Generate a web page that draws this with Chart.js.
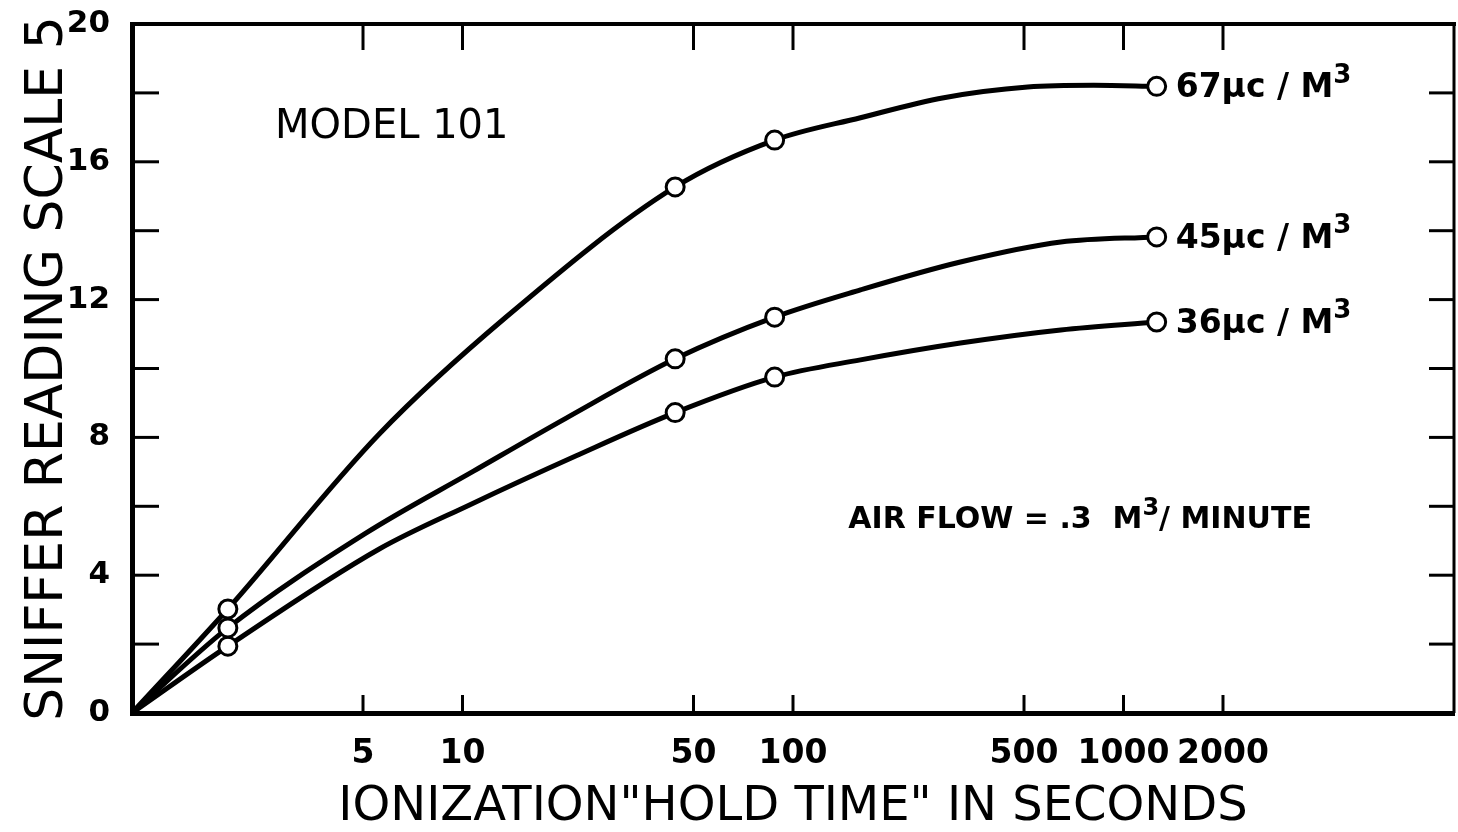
<!DOCTYPE html>
<html>
<head>
<meta charset="utf-8">
<title>Sniffer reading vs ionization hold time</title>
<script src="https://cdn.jsdelivr.net/npm/chart.js@4.4.1/dist/chart.umd.min.js"></script>
<style>
    html, body { margin: 0; padding: 0; background: #fff; overflow: hidden; }
    canvas { display: block; }
</style>
</head>
<body>
<canvas id="holdTimeChart" width="1458" height="832"></canvas>
<script>
// axis ticks
const xTicks = [5, 10, 50, 100, 500, 1000, 2000];
const yTicks = [0, 4, 8, 12, 16, 20];
const yMarks = [2, 4, 6, 8, 10, 12, 14, 16, 18];

// curve labels (µc per cubic metre)
const seriesLabels = ['67\u03bcc / M\u00b3', '45\u03bcc / M\u00b3', '36\u03bcc / M\u00b3'];

// measured points (circles), hold time in seconds
const pointTime = [1.95, 44, 88, 1260];
const points67 = [3.02, 15.27, 16.63, 18.19];
const points45 = [2.47, 10.28, 11.49, 13.82];
const points36 = [1.94, 8.72, 9.75, 11.35];

// faired curves (start at the corner)
const curveTime67 = [1, 1.95, 5.6, 13.5, 44, 88, 160, 286, 513, 813, 1260];
const curve67 = [0, 3.02, 8.1, 11.48, 15.27, 16.63, 17.28, 17.86, 18.17, 18.22, 18.19];
const curveTime45 = [1, 1.95, 5.1, 10.8, 20.6, 44, 88, 160, 321, 646, 1260];
const curve45 = [0, 2.47, 5.22, 7.02, 8.56, 10.28, 11.49, 12.28, 13.09, 13.67, 13.82];
const curveTime36 = [1, 1.95, 5.6, 10.5, 22, 44, 88, 160, 321, 646, 1260];
const curve36 = [0, 1.94, 4.76, 6.04, 7.46, 8.72, 9.75, 10.25, 10.74, 11.12, 11.35];

const FONT = "'DejaVu Sans', 'Liberation Sans', sans-serif";

function toXY(xs, ys) {
    return xs.map((x, i) => ({ x: x, y: ys[i] }));
}

function curveSet(xs, ys) {
    return {
        type: 'line',
        data: toXY(xs, ys),
        borderColor: '#000',
        borderWidth: 5,
        pointRadius: 0,
        fill: false,
        cubicInterpolationMode: 'monotone',
        order: 2
    };
}

function pointSet(ys) {
    return {
        type: 'scatter',
        data: toXY(pointTime, ys),
        pointStyle: 'circle',
        pointRadius: 9,
        pointBorderWidth: 3,
        pointBackgroundColor: '#fff',
        pointBorderColor: '#000',
        showLine: false,
        order: 1
    };
}

// no label overflow padding, the box is placed by hand
function noPadding(scale) {
    scale.paddingLeft = 0;
    scale.paddingRight = 0;
    scale.paddingTop = 0;
    scale.paddingBottom = 0;
}

// draws text, turning "³" into a raised 3
function drawRich(ctx, text, x, y, size) {
    let cx = x;
    text.split(/(\u00b3)/).forEach(part => {
        if (!part) return;
        if (part === '\u00b3') {
            ctx.font = 'bold ' + Math.round(size * 0.8) + 'px ' + FONT;
            ctx.fillText('3', cx, y - size * 0.45);
            cx += ctx.measureText('3').width;
        } else {
            ctx.font = 'bold ' + size + 'px ' + FONT;
            ctx.fillText(part, cx, y);
            cx += ctx.measureText(part).width;
        }
    });
}

const framePlugin = {
    id: 'frame',
    afterDraw(chart) {
        const { ctx, chartArea: a, scales: { x, y } } = chart;
        ctx.save();
        ctx.strokeStyle = '#000';
        ctx.fillStyle = '#000';

        const line = (x1, y1, x2, y2) => {
            ctx.beginPath();
            ctx.moveTo(x1, y1);
            ctx.lineTo(x2, y2);
            ctx.stroke();
        };

        // top and right side of the box
        ctx.lineWidth = 4;
        line(a.left - 2, a.top, a.right + 2, a.top);
        ctx.lineWidth = 3;
        line(a.right, a.top, a.right, a.bottom);

        // inside tick marks
        ctx.lineWidth = 3;
        yMarks.forEach(v => {
            const py = y.getPixelForValue(v);
            line(a.left, py, a.left + 27, py);
            line(a.right - 25, py, a.right, py);
        });
        xTicks.forEach(v => {
            const px = x.getPixelForValue(v);
            line(px, a.top, px, a.top + 26);
            line(px, a.bottom, px, a.bottom - 18);
        });

        // notes
        ctx.textBaseline = 'alphabetic';
        ctx.textAlign = 'left';
        ctx.font = '40px ' + FONT;
        ctx.fillText('MODEL 101', x.getPixelForValue(2.71), y.getPixelForValue(16.7));
        drawRich(ctx, 'AIR FLOW = .3  M\u00b3/ MINUTE', x.getPixelForValue(147), y.getPixelForValue(5.37), 30);

        // curve labels next to the last circle
        const ends = [points67, points45, points36];
        ends.forEach((ys, i) => {
            const px = x.getPixelForValue(pointTime[pointTime.length - 1]);
            const py = y.getPixelForValue(ys[ys.length - 1]);
            drawRich(ctx, seriesLabels[i], px + 19, py + 11, 33);
        });
        ctx.restore();
    }
};

new Chart(document.getElementById('holdTimeChart'), {
    type: 'line',
    data: {
        datasets: [
            pointSet(points67),
            pointSet(points45),
            pointSet(points36),
            curveSet(curveTime67, curve67),
            curveSet(curveTime45, curve45),
            curveSet(curveTime36, curve36)
        ]
    },
    options: {
        responsive: false,
        animation: false,
        layout: { autoPadding: false, padding: { top: 24, right: 4, left: 0, bottom: 0 } },
        plugins: {
            legend: { display: false },
            tooltip: { enabled: false }
        },
        scales: {
            x: {
                type: 'logarithmic',
                min: 1,
                max: 10000,
                afterBuildTicks: scale => { scale.ticks = xTicks.map(v => ({ value: v })); },
                afterFit: scale => {
                    scale.height = 119;
                    noPadding(scale);
                },
                ticks: {
                    color: '#000',
                    padding: 22,
                    autoSkip: false,
                    maxRotation: 0,
                    font: { family: FONT, size: 33, weight: 'bold' },
                    callback: v => String(v)
                },
                grid: { display: true, drawOnChartArea: false, drawTicks: false },
                border: { display: true, color: '#000', width: 5 },
                title: {
                    display: true,
                    text: 'IONIZATION"HOLD TIME" IN SECONDS',
                    color: '#000',
                    font: { family: FONT, size: 48, lineHeight: 1 },
                    padding: { top: 0, bottom: 0 }
                }
            },
            y: {
                type: 'linear',
                min: 0,
                max: 20,
                afterBuildTicks: scale => { scale.ticks = yTicks.map(v => ({ value: v })); },
                afterFit: scale => {
                    scale.width = 132;
                    noPadding(scale);
                },
                ticks: {
                    color: '#000',
                    padding: 22,
                    font: { family: FONT, size: 31, weight: 'bold' }
                },
                grid: { display: true, drawOnChartArea: false, drawTicks: false },
                border: { display: true, color: '#000', width: 5 },
                title: {
                    display: true,
                    text: 'SNIFFER READING SCALE 5',
                    color: '#000',
                    font: { family: FONT, size: 52, lineHeight: 1 },
                    padding: { top: 22, bottom: 0 }
                }
            }
        }
    },
    plugins: [framePlugin]
});
</script>
</body>
</html>
